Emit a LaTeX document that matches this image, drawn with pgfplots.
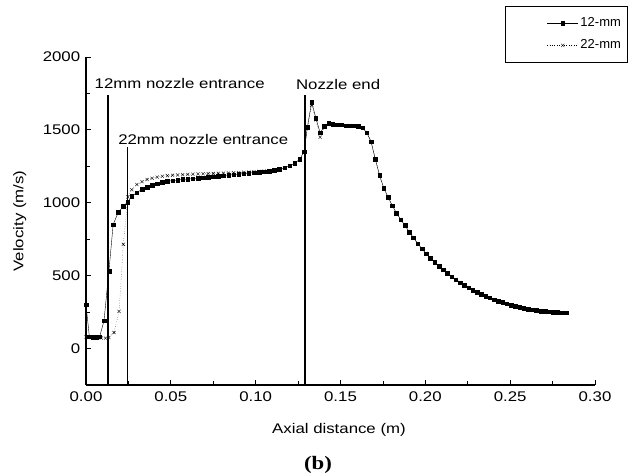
\documentclass[border=0pt]{standalone}
\usepackage{pgfplots}
\pgfplotsset{compat=1.18}
\usepackage{fontspec}
\setmainfont{Liberation Sans}[FakeStretch=1.2]
\newfontfamily\legfont{Liberation Sans}
\newfontfamily\capfont{Liberation Serif}[FakeStretch=1.2]
\begin{document}
\fontsize{14}{17}\selectfont
\begin{tikzpicture}[font=\fontsize{14}{17}\selectfont]
\useasboundingbox (-86pt,-91pt) rectangle (543pt,385pt);
\begin{axis}[
  scale only axis, width=509pt, height=328pt,
  at={(0pt,0pt)}, anchor=south west,
  xmin=0, xmax=0.30, ymin=-250, ymax=2000,
  axis x line*=bottom, axis y line*=left,
  axis line style={line width=1.3pt},
  xtick={0,0.05,...,0.30}, ytick={0,500,1000,1500,2000},
  minor x tick num=1, minor y tick num=1,
  tick align=inside,
  major tick length=5pt, minor tick length=4pt,
  tick style={line width=0.8pt, black},
  xticklabel style={/pgf/number format/fixed, /pgf/number format/fixed zerofill, /pgf/number format/precision=2, font=\fontsize{14}{17}\selectfont, yshift=-2pt},
  yticklabel style={/pgf/number format/set thousands separator={}, font=\fontsize{14}{17}\selectfont, xshift=-1pt},
  /pgf/number format/assume math mode=true,
  scaled x ticks=false,
  clip=false,
  xlabel={Axial distance (m)}, ylabel={Velocity (m/s)},
  xlabel style={font=\fontsize{14}{17}\selectfont, at={(axis description cs:0.497,-0.137)}, anchor=center},
  ylabel style={font=\fontsize{14}{17}\selectfont, at={(axis description cs:-0.13,0.5)}, anchor=center},
  legend style={at={(1.0635,1.155)}, anchor=north east, draw=black, line width=0.8pt, font={\legfont\fontsize{13}{15}\selectfont}, row sep=7pt, inner ysep=9pt, inner xsep=4pt},
  legend cell align=left,
  legend image code/.code={\path (-38pt,0pt); \draw[mark repeat=2,mark phase=2,#1] plot coordinates {(0pt,0pt) (15.5pt,0pt) (31pt,0pt)};},
]
\addplot[black, thin, mark=square*, mark size=1.8pt, mark options={solid}] coordinates {
(0,300)(0.002,80)(0.004,78)(0.006,78)(0.008,80)(0.0106,190)(0.0135,530)(0.016,850)(0.019,935)(0.022,975)(0.0246,1005)
(0.027,1045)(0.030,1070)(0.033,1092)(0.036,1108)(0.039,1120)(0.042,1132)(0.045,1140)(0.048,1147)(0.051,1152)(0.054,1156)
(0.057,1160)(0.060,1163)(0.063,1166)(0.066,1170)(0.069,1173)(0.072,1177)(0.075,1180)(0.078,1184)(0.081,1187)(0.084,1190)
(0.087,1193)(0.090,1197)(0.093,1200)(0.096,1204)(0.099,1207)(0.102,1210)(0.105,1214)(0.108,1218)(0.111,1223)(0.114,1230)
(0.117,1240)(0.120,1255)(0.123,1270)(0.126,1300)(0.1285,1350)(0.1305,1520)(0.133,1690)(0.1355,1580)(0.138,1480)(0.1405,1525)
(0.143,1545)(0.1455,1540)(0.148,1535)(0.1505,1535)(0.153,1530)(0.1555,1530)(0.158,1528)(0.1605,1525)(0.163,1515)(0.1655,1480)
(0.168,1420)(0.1705,1300)(0.173,1190)(0.1755,1100)(0.178,1040)(0.1805,980)(0.183,930)(0.1855,885)(0.188,845)(0.1905,800)
(0.193,760)(0.1955,720)(0.198,685)(0.2005,652)(0.203,620)(0.2055,592)(0.208,565)(0.2105,540)(0.213,516)(0.2155,494)
(0.218,473)(0.2205,453)(0.223,435)(0.2255,418)(0.228,402)(0.2305,387)(0.233,373)(0.2355,360)(0.238,348)(0.2405,336)
(0.243,326)(0.2455,316)(0.248,307)(0.2505,298)(0.253,291)(0.2555,284)(0.258,278)(0.2605,272)(0.263,267)(0.2655,262)
(0.268,258)(0.2705,255)(0.273,252)(0.2755,250)(0.278,248)(0.2805,247)(0.283,246)
};
\addlegendentry{12-mm}
\addplot[black, thin, dotted, mark=x, mark size=2.2pt, mark options={solid}] coordinates {
(0,80)(0.003,78)(0.006,75)(0.009,72)(0.0115,72)(0.0135,76)(0.0165,110)(0.0195,255)(0.022,715)(0.0247,1040)
(0.027,1090)(0.030,1125)(0.033,1145)(0.036,1160)(0.039,1168)(0.042,1176)(0.045,1182)(0.048,1186)(0.051,1189)(0.054,1191)
(0.057,1193)(0.060,1195)(0.063,1196)(0.066,1198)(0.069,1199)(0.072,1200)(0.075,1201)(0.078,1202)(0.081,1203)(0.084,1204)
(0.087,1205)(0.090,1207)(0.093,1209)(0.096,1211)(0.099,1213)(0.102,1215)(0.105,1218)(0.108,1221)(0.111,1225)(0.114,1231)
(0.117,1240)(0.120,1255)(0.123,1270)(0.126,1300)(0.1285,1350)(0.1305,1510)(0.133,1670)(0.1355,1570)(0.138,1450)(0.1405,1520)
(0.143,1545)(0.1455,1540)(0.148,1535)(0.1505,1535)(0.153,1530)(0.1555,1530)(0.158,1528)(0.1605,1525)(0.163,1515)(0.1655,1480)
(0.168,1420)(0.1705,1300)(0.173,1190)(0.1755,1100)(0.178,1040)(0.1805,980)(0.183,930)(0.1855,885)(0.188,845)(0.1905,800)
(0.193,760)(0.1955,720)(0.198,685)(0.2005,652)(0.203,620)(0.2055,592)(0.208,565)(0.2105,540)(0.213,516)(0.2155,494)
(0.218,473)(0.2205,453)(0.223,435)(0.2255,418)(0.228,402)(0.2305,387)(0.233,373)(0.2355,360)(0.238,348)(0.2405,336)
(0.243,326)(0.2455,316)(0.248,307)(0.2505,298)(0.253,291)(0.2555,284)(0.258,278)(0.2605,272)(0.263,267)(0.2655,262)
(0.268,258)(0.2705,255)(0.273,252)(0.2755,250)(0.278,248)(0.2805,247)(0.283,246)
};
\addlegendentry{22-mm}
\addplot[black, line width=1.8pt, forget plot] coordinates {(0.0130,-250)(0.0130,1740)};
\addplot[black, line width=1.6pt, forget plot] coordinates {(0.0244,-250)(0.0244,1383)};
\addplot[black, line width=1.8pt, forget plot] coordinates {(0.1290,-250)(0.1290,1740)};
\node[anchor=west, inner sep=0pt] at (axis cs:0.0050,1820) {12mm nozzle entrance};
\node[anchor=west, inner sep=0pt] at (axis cs:0.0189,1431) {22mm nozzle entrance};
\node[anchor=west, inner sep=0pt] at (axis cs:0.1237,1812) {Nozzle end};
\node[font={\capfont\bfseries\fontsize{19}{22}\selectfont}] at (axis description cs:0.4558,-0.245) {(b)};
\end{axis}
\end{tikzpicture}
\end{document}
